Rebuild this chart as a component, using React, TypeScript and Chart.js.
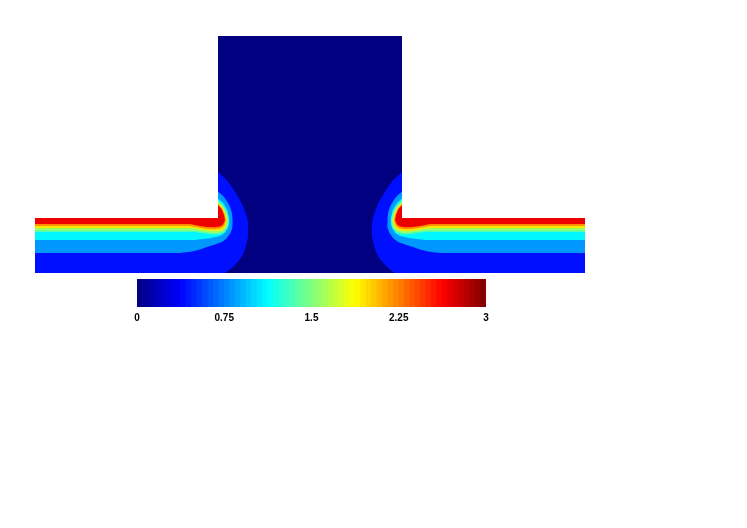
import React, { useEffect, useRef } from "react";
import { Chart, registerables } from "chart.js";
Chart.register(...registerables);

// ---- Domain geometry (data units) ----
const DOMAIN_X = [0, 5.5];
const DOMAIN_Y = [0, 2.37];
const CHANNEL_TOP = 0.55;
const CHAMBER_X = [1.83, 3.67];
const CHAMBER_TOP = 2.37;

// ---- Field levels (value of each filled contour band) ----
const BASE_VALUE = 0;
const BAND_VALUES = [0.42, 0.82, 1.1, 1.36, 1.58, 1.95, 2.2, 2.68];

// Contour outlines at the left corner (right corner is the mirror image).
// upper: from the chamber wall to the tip of the bulge; lower: from the channel inlet to the tip.
const UPPER_BLUE = [[1.83, 1.01], [1.875, 0.97], [1.917, 0.93], [1.96, 0.875], [2.0, 0.813], [2.035, 0.755], [2.067, 0.697], [2.095, 0.63], [2.117, 0.563], [2.13, 0.51], [2.135, 0.46]];
const LOWER_BLUE = [[0, 0], [1.9, 0], [1.945, 0.03], [1.983, 0.063], [2.027, 0.11], [2.067, 0.163], [2.095, 0.225], [2.117, 0.297], [2.13, 0.36], [2.135, 0.41], [2.135, 0.46]];
const UPPER_LIGHTBLUE = [[1.83, 0.813], [1.87, 0.78], [1.9, 0.747], [1.93, 0.70], [1.95, 0.663], [1.967, 0.61], [1.975, 0.56], [1.978, 0.5]];
const LOWER_LIGHTBLUE = [[0, 0.2], [1.45, 0.2], [1.57, 0.215], [1.65, 0.235], [1.72, 0.26], [1.8, 0.285], [1.87, 0.31], [1.92, 0.35], [1.955, 0.4], [1.973, 0.45], [1.978, 0.5]];
const UPPER_CYAN = [[1.83, 0.747], [1.883, 0.697], [1.923, 0.63], [1.943, 0.547], [1.945, 0.5]];
const LOWER_CYAN = [[0, 0.33], [1.6, 0.33], [1.68, 0.34], [1.75, 0.347], [1.85, 0.37], [1.9, 0.403], [1.933, 0.463], [1.945, 0.5]];
const UPPER_AQUA = [[1.83, 0.73], [1.882, 0.68], [1.92, 0.615], [1.94, 0.53]];
const LOWER_AQUA = [[0, 0.41], [1.6, 0.41], [1.68, 0.398], [1.76, 0.388], [1.83, 0.385], [1.885, 0.4], [1.925, 0.445], [1.94, 0.53]];
const UPPER_GREEN = [[1.83, 0.715], [1.88, 0.665], [1.915, 0.6], [1.93, 0.52]];
const LOWER_GREEN = [[0, 0.425], [1.58, 0.425], [1.67, 0.412], [1.75, 0.403], [1.82, 0.4], [1.88, 0.415], [1.915, 0.455], [1.93, 0.52]];
const UPPER_YELLOW = [[1.83, 0.7], [1.877, 0.65], [1.905, 0.59], [1.92, 0.52]];
const LOWER_YELLOW = [[0, 0.45], [1.57, 0.45], [1.66, 0.435], [1.74, 0.423], [1.81, 0.42], [1.87, 0.43], [1.905, 0.465], [1.92, 0.52]];
const UPPER_ORANGE = [[1.83, 0.69], [1.872, 0.645], [1.897, 0.585], [1.91, 0.525]];
const LOWER_ORANGE = [[0, 0.47], [1.55, 0.47], [1.65, 0.452], [1.73, 0.44], [1.8, 0.437], [1.86, 0.447], [1.895, 0.475], [1.91, 0.525]];
const UPPER_RED = [[1.83, 0.68], [1.867, 0.637], [1.89, 0.58], [1.9, 0.53]];
const LOWER_RED = [[0, 0.49], [1.55, 0.49], [1.65, 0.47], [1.72, 0.46], [1.8, 0.458], [1.85, 0.465], [1.88, 0.485], [1.9, 0.53]];

const BAND_UPPER = [UPPER_BLUE, UPPER_LIGHTBLUE, UPPER_CYAN, UPPER_AQUA, UPPER_GREEN, UPPER_YELLOW, UPPER_ORANGE, UPPER_RED];
const BAND_LOWER = [LOWER_BLUE, LOWER_LIGHTBLUE, LOWER_CYAN, LOWER_AQUA, LOWER_GREEN, LOWER_YELLOW, LOWER_ORANGE, LOWER_RED];

// ---- Colour bar ----
const COLORBAR_RANGE = [0, 3];
const COLORBAR_TICKS = [0, 0.75, 1.5, 2.25, 3];
const COLORBAR_STEPS = 64;

function jet(value: number): string {
  const t = (value - COLORBAR_RANGE[0]) / (COLORBAR_RANGE[1] - COLORBAR_RANGE[0]);
  const c = (v: number) => Math.round(255 * Math.max(0, Math.min(1, v)));
  const r = c(1.5 - Math.abs(4 * t - 3));
  const g = c(1.5 - Math.abs(4 * t - 2));
  const b = c(1.5 - Math.abs(4 * t - 1));
  return `rgb(${r},${g},${b})`;
}

type Pt = number[];
const toXY = (pts: Pt[]) => pts.map(([x, y]) => ({ x, y }));
const mirror = (pts: Pt[]) =>
  pts.map(([x, y]) => [DOMAIN_X[0] + DOMAIN_X[1] - x, y]).reverse();

const common = {
  borderWidth: 0,
  borderColor: "transparent",
  pointRadius: 0,
  pointHoverRadius: 0,
  tension: 0,
};

function buildDatasets() {
  const ds: any[] = [];
  ds.push({
    ...common,
    data: toXY([
      [DOMAIN_X[0], CHANNEL_TOP],
      [CHAMBER_X[0], CHANNEL_TOP],
      [CHAMBER_X[0], CHAMBER_TOP],
      [CHAMBER_X[1], CHAMBER_TOP],
      [CHAMBER_X[1], CHANNEL_TOP],
      [DOMAIN_X[1], CHANNEL_TOP],
    ]),
    fill: "origin",
    backgroundColor: jet(BASE_VALUE),
    order: 1000,
  });
  BAND_VALUES.forEach((v, k) => {
    const color = jet(v);
    const up = BAND_UPPER[k];
    const lo = BAND_LOWER[k];
    const leftUpper = [[DOMAIN_X[0], CHANNEL_TOP], [CHAMBER_X[0], CHANNEL_TOP], ...up];
    const rightUpper = [...mirror(up), [CHAMBER_X[1], CHANNEL_TOP], [DOMAIN_X[1], CHANNEL_TOP]];
    const pairs = [
      [leftUpper, lo],
      [rightUpper, mirror(lo)],
    ];
    pairs.forEach(([u, l]) => {
      const idx = ds.length;
      ds.push({ ...common, data: toXY(u), fill: idx + 1, backgroundColor: color, order: 900 - k });
      ds.push({ ...common, data: toXY(l), fill: false, backgroundColor: color, order: 900 - k });
    });
  });
  return ds;
}

export default function App() {
  const mainRef = useRef<HTMLCanvasElement>(null);
  const barRef = useRef<HTMLCanvasElement>(null);

  useEffect(() => {
    const main = new Chart(mainRef.current!, {
      type: "line",
      data: { datasets: buildDatasets() },
      options: {
        animation: false,
        responsive: true,
        maintainAspectRatio: false,
        events: [],
        layout: { padding: { left: 27, top: 28, right: 154, bottom: 247 } },
        plugins: { legend: { display: false }, tooltip: { enabled: false } },
        scales: {
          x: { type: "linear", min: DOMAIN_X[0], max: DOMAIN_X[1], display: false },
          y: { type: "linear", min: DOMAIN_Y[0], max: DOMAIN_Y[1], display: false },
        },
      },
    } as any);

    const span = COLORBAR_RANGE[1] - COLORBAR_RANGE[0];
    const step = span / COLORBAR_STEPS;
    const segs = Array.from({ length: COLORBAR_STEPS }, (_, i) => {
      const lo = COLORBAR_RANGE[0] + i * step;
      const hi = i === COLORBAR_STEPS - 1 ? COLORBAR_RANGE[1] : lo + step * 1.15;
      return { x: [lo, hi], y: "cb" };
    });
    const segColors = segs.map((_, i) => jet(COLORBAR_RANGE[0] + (i + 0.5) * step));

    const bar = new Chart(barRef.current!, {
      type: "bar",
      data: {
        labels: ["cb"],
        datasets: [
          {
            data: segs,
            backgroundColor: segColors,
            borderWidth: 0,
            barPercentage: 1,
            categoryPercentage: 1,
          },
        ],
      },
      options: {
        indexAxis: "y",
        animation: false,
        responsive: true,
        maintainAspectRatio: false,
        events: [],
        layout: { padding: { left: 10, right: 11, top: 9, bottom: 3 } },
        plugins: { legend: { display: false }, tooltip: { enabled: false } },
        scales: {
          x: {
            type: "linear",
            min: COLORBAR_RANGE[0],
            max: COLORBAR_RANGE[1],
            grid: { display: false, drawTicks: false },
            border: { display: false },
            afterBuildTicks: (s: any) => {
              s.ticks = COLORBAR_TICKS.map((v) => ({ value: v }));
            },
            ticks: {
              align: "center",
              padding: 5,
              color: "#000",
              autoSkip: false,
              maxRotation: 0,
              font: { family: '"Liberation Sans", Arial, sans-serif', size: 10, weight: "bold" },
              callback: (v: any) => String(v),
            },
          },
          y: { display: false },
        },
      },
    } as any);

    return () => {
      main.destroy();
      bar.destroy();
    };
  }, []);

  return (
    <div style={{ position: "relative", width: 731, height: 512 }}>
      <div style={{ position: "absolute", left: 0, top: 0, width: 731, height: 512 }}>
        <canvas ref={mainRef} />
      </div>
      <div style={{ position: "absolute", left: 119, top: 262, width: 370, height: 62 }}>
        <canvas ref={barRef} />
      </div>
    </div>
  );
}
